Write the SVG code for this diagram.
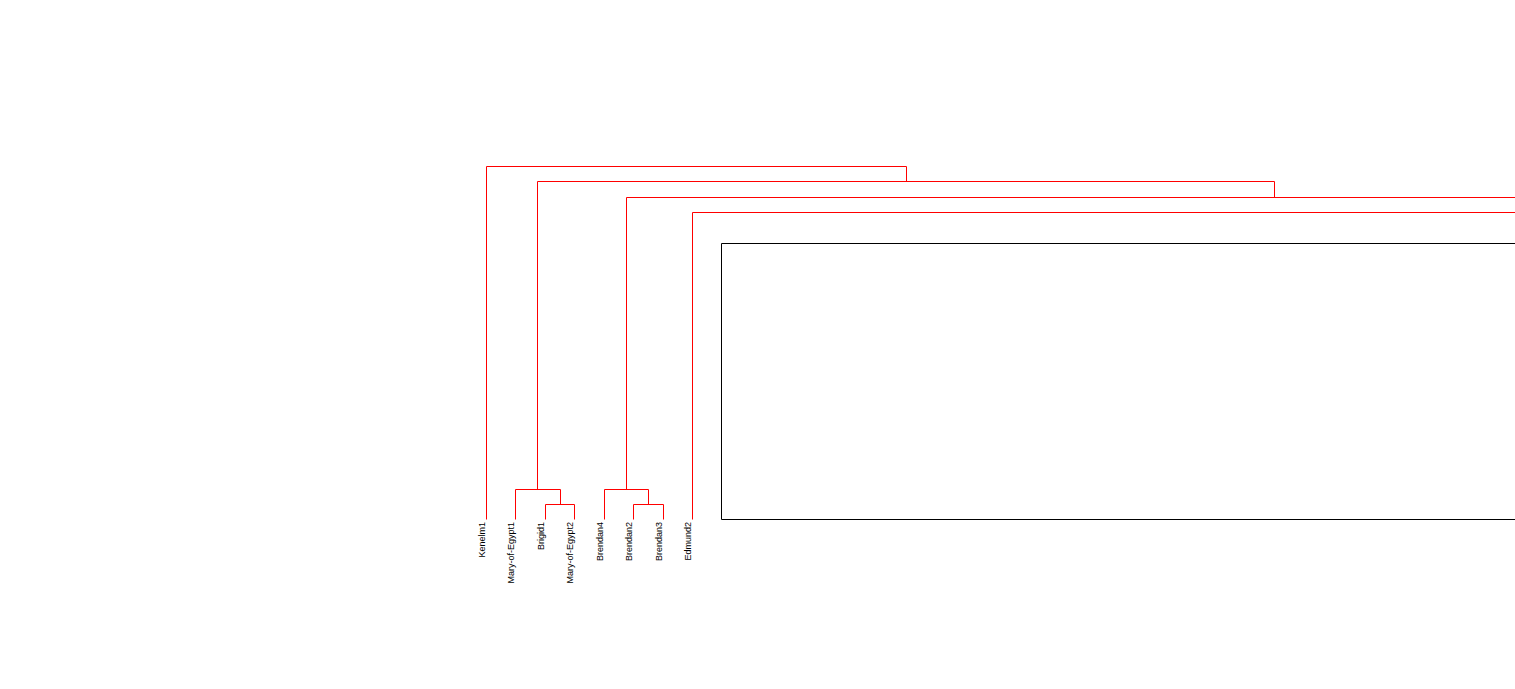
<svg xmlns="http://www.w3.org/2000/svg" width="1515" height="689" viewBox="0 0 1515 689">
<style>
.bg{fill:#ffffff}
.link{fill:none;stroke:#ff0000;stroke-width:1}
.box{fill:none;stroke:#000000;stroke-width:1}
.lbl{font-family:"Liberation Sans",Arial,sans-serif;font-size:9px;fill:#000000;text-anchor:end}
</style>
<rect class="bg" x="0" y="0" width="1515" height="689"/>
<g id="connectors">
<path class="link" d="M486.5,519.5V166.5H906.5V181.5"/>
<path class="link" d="M537.5,181.5H1274.5V197.5"/>
<path class="link" d="M537.5,181.5V489.5"/>
<path class="link" d="M515.5,519.5V489.5H560.5V504.5"/>
<path class="link" d="M545.5,519.5V504.5H574.5V519.5"/>
<path class="link" d="M626.5,489.5V197.5H1516"/>
<path class="link" d="M604.5,519.5V489.5H648.5V504.5"/>
<path class="link" d="M633.5,519.5V504.5H663.5V519.5"/>
<path class="link" d="M692.5,519.5V212.5H1516"/>
</g>
<g id="cluster-box">
<path class="box" d="M1516,243.5H721.5V519.5H1516"/>
</g>
<g id="leaf-Kenelm1"><text class="lbl" transform="translate(485,522) rotate(-90)">Kenelm1</text></g>
<g id="leaf-Mary-of-Egypt1"><text class="lbl" transform="translate(514,522) rotate(-90)">Mary-of-Egypt1</text></g>
<g id="leaf-Brigid1"><text class="lbl" transform="translate(544,522) rotate(-90)">Brigid1</text></g>
<g id="leaf-Mary-of-Egypt2"><text class="lbl" transform="translate(573,522) rotate(-90)">Mary-of-Egypt2</text></g>
<g id="leaf-Brendan4"><text class="lbl" transform="translate(603,522) rotate(-90)">Brendan4</text></g>
<g id="leaf-Brendan2"><text class="lbl" transform="translate(632,522) rotate(-90)">Brendan2</text></g>
<g id="leaf-Brendan3"><text class="lbl" transform="translate(662,522) rotate(-90)">Brendan3</text></g>
<g id="leaf-Edmund2"><text class="lbl" transform="translate(691,522) rotate(-90)">Edmund2</text></g>
</svg>
